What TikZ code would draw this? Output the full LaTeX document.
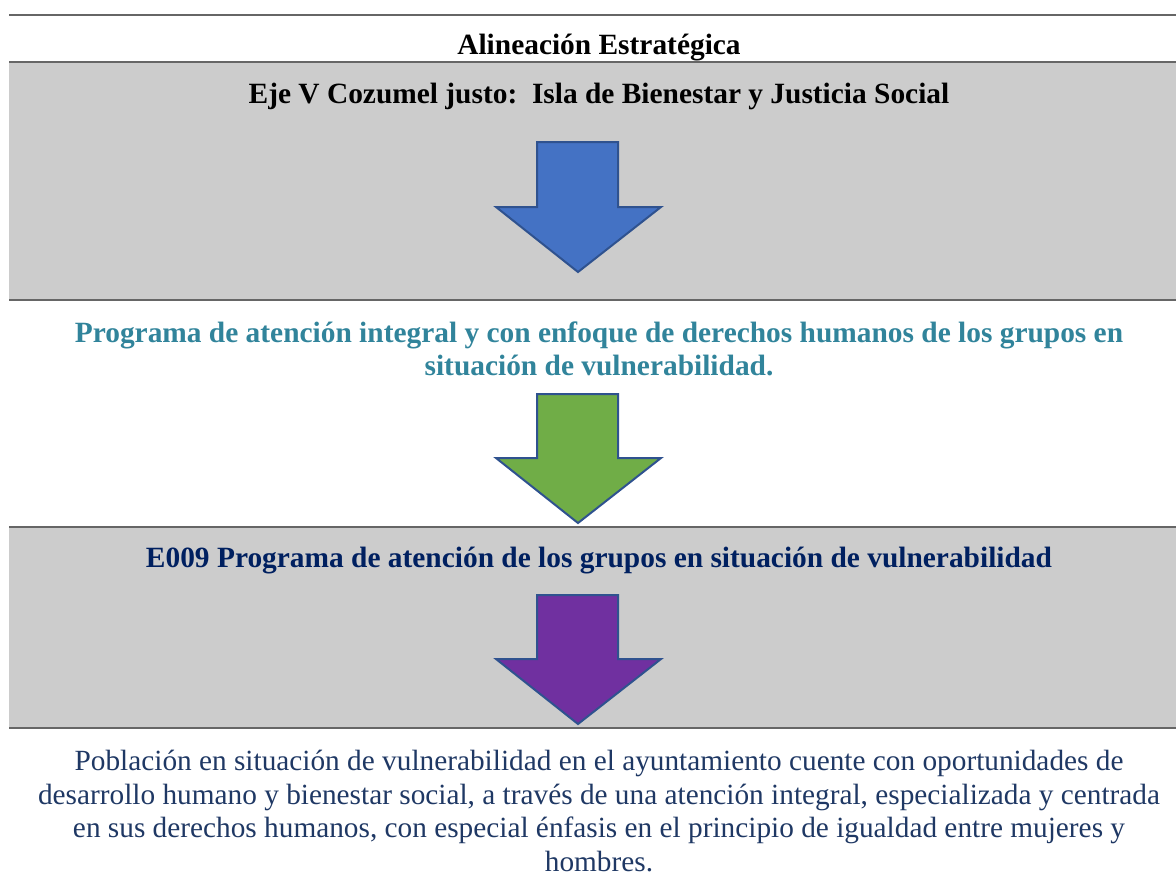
\documentclass[tikz,border=0pt]{standalone}
\usepackage{fontspec}
\setmainfont{Liberation Serif}
\definecolor{bandgray}{HTML}{CCCCCC}
\definecolor{rulegray}{HTML}{666666}
\definecolor{arrowblue}{HTML}{4472C4}
\definecolor{arrowgreen}{HTML}{70AD47}
\definecolor{arrowpurple}{HTML}{7030A0}
\definecolor{arrowedge}{HTML}{2F528F}
\definecolor{tealtext}{HTML}{31849B}
\definecolor{navytext}{HTML}{002060}
\definecolor{bodytext}{HTML}{1F3864}
\tikzset{
  rulegline/.style={draw=rulegray, line width=2pt},
  bigarrow/.style={draw=arrowedge, line width=2pt, line join=miter},
  boldtxt/.style={font=\fontsize{29.4}{33.5}\selectfont\bfseries, inner sep=0pt, align=center},
  plaintxt/.style={font=\fontsize{29.3}{33.5}\selectfont, inner sep=0pt, align=center},
}
\begin{document}
\begin{tikzpicture}[x=1pt,y=-1pt]
\useasboundingbox (0,0) rectangle (1176,873);
% bands
\fill[bandgray] (9,62) rectangle (1176,300);
\fill[bandgray] (9,527) rectangle (1176,728);
% rules
\draw[rulegline] (9,15) -- (1176,15);
\draw[rulegline, line width=1.6pt] (9,62) -- (1176,62);
\draw[rulegline] (9,300) -- (1176,300);
\draw[rulegline] (9,527) -- (1176,527);
\draw[rulegline] (9,728) -- (1176,728);
% texts
\node[boldtxt] (title) at (599,48) {Alineación Estratégica};
\node[boldtxt] (eje) at (599,96) {Eje V Cozumel justo:\ \ Isla de Bienestar y Justicia Social};
\node[boldtxt, text=tealtext] (prog) at (599,349) {Programa de atención integral y con enfoque de derechos humanos de los grupos en\\situación de vulnerabilidad.};
\node[boldtxt, text=navytext] (e009) at (599,561) {E009 Programa de atención de los grupos en situación de vulnerabilidad};
\node[plaintxt, text=bodytext] (pob) at (599,811) {Población en situación de vulnerabilidad en el ayuntamiento cuente con oportunidades de\\desarrollo humano y bienestar social, a través de una atención integral, especializada y centrada\\en sus derechos humanos, con especial énfasis en el principio de igualdad entre mujeres y\\hombres.};
% arrows
\draw[bigarrow, fill=arrowblue] (537,142) -- (618,142) -- (618,207) -- (661,207) -- (578,272) -- (496,207) -- (537,207) -- cycle;
\draw[bigarrow, fill=arrowgreen] (537,394) -- (618,394) -- (618,458) -- (661,458) -- (578,523) -- (496,458) -- (537,458) -- cycle;
\draw[bigarrow, fill=arrowpurple] (537,595) -- (618,595) -- (618,659) -- (661,659) -- (578,724) -- (496,659) -- (537,659) -- cycle;
\end{tikzpicture}
\end{document}
